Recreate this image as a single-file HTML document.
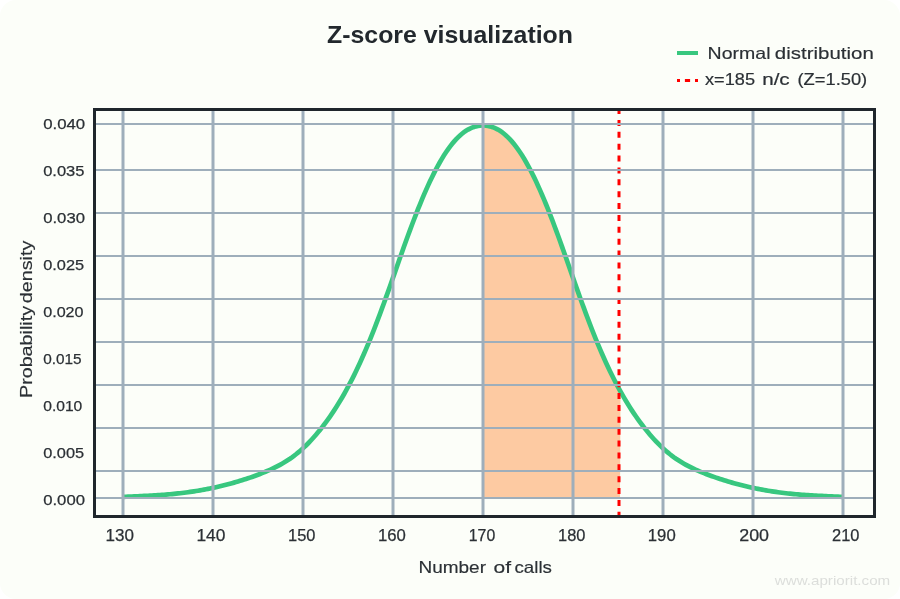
<!DOCTYPE html>
<html><head><meta charset="utf-8"><style>
html,body{margin:0;padding:0;background:#ffffff;}
svg{display:block;will-change:transform;}
text{font-family:"Liberation Sans",sans-serif;}
</style></head><body>
<svg width="900" height="599" viewBox="0 0 900 599">
<rect x="0" y="0" width="900" height="599" rx="16" ry="16" fill="#fcfef9"/>
<text x="450" y="43" text-anchor="middle" font-size="23.6" font-weight="bold" fill="#22282d" textLength="246" lengthAdjust="spacingAndGlyphs">Z-score visualization</text>
<line x1="677" y1="53" x2="698" y2="53" stroke="#38c77f" stroke-width="4"/>
<line x1="677" y1="80.45" x2="698" y2="80.45" stroke="#ff0000" stroke-width="3.1" stroke-dasharray="5.2 4.9" stroke-dashoffset="2.2"/>
<g font-size="16.5" fill="#2b3035" stroke="#2b3035" stroke-width="0.15"><text x="707.6" y="59" textLength="62.9" lengthAdjust="spacingAndGlyphs">Normal</text><text x="774.8" y="59" textLength="99" lengthAdjust="spacingAndGlyphs">distribution</text></g>
<g font-size="16.5" fill="#2b3035" stroke="#2b3035" stroke-width="0.2">
<text x="705" y="84.9" textLength="50" lengthAdjust="spacingAndGlyphs">x=185</text>
<text x="762.2" y="84.9" textLength="27.5" lengthAdjust="spacingAndGlyphs">n/c</text>
<text x="797.5" y="84.9" textLength="69.7" lengthAdjust="spacingAndGlyphs">(Z=1.50)</text>
</g>
<path d="M483.5,498.00 L483.5,125.46 L484.5,125.50 L485.5,125.57 L486.5,125.68 L487.5,125.82 L488.5,126.01 L489.5,126.22 L490.5,126.48 L491.5,126.77 L492.5,127.10 L493.5,127.46 L494.5,127.87 L495.5,128.31 L496.5,128.79 L497.5,129.32 L498.5,129.88 L499.5,130.48 L500.5,131.13 L501.5,131.82 L502.5,132.55 L503.5,133.32 L504.5,134.14 L505.5,135.00 L506.5,135.90 L507.5,136.84 L508.5,137.83 L509.5,138.87 L510.5,139.94 L511.5,141.06 L512.5,142.22 L513.5,143.43 L514.5,144.67 L515.5,145.96 L516.5,147.29 L517.5,148.66 L518.5,150.08 L519.5,151.53 L520.5,153.03 L521.5,154.56 L522.5,156.14 L523.5,157.76 L524.5,159.41 L525.5,161.11 L526.5,162.85 L527.5,164.63 L528.5,166.45 L529.5,168.30 L530.5,170.20 L531.5,172.14 L532.5,174.11 L533.5,176.13 L534.5,178.18 L535.5,180.27 L536.5,182.39 L537.5,184.55 L538.5,186.75 L539.5,188.98 L540.5,191.24 L541.5,193.54 L542.5,195.87 L543.5,198.23 L544.5,200.62 L545.5,203.04 L546.5,205.49 L547.5,207.97 L548.5,210.48 L549.5,213.01 L550.5,215.57 L551.5,218.16 L552.5,220.77 L553.5,223.40 L554.5,226.06 L555.5,228.74 L556.5,231.44 L557.5,234.15 L558.5,236.89 L559.5,239.64 L560.5,242.40 L561.5,245.18 L562.5,247.97 L563.5,250.78 L564.5,253.59 L565.5,256.41 L566.5,259.24 L567.5,262.07 L568.5,264.91 L569.5,267.76 L570.5,270.60 L571.5,273.45 L572.5,276.29 L573.5,279.13 L574.5,281.97 L575.5,284.80 L576.5,287.62 L577.5,290.43 L578.5,293.24 L579.5,296.03 L580.5,298.81 L581.5,301.57 L582.5,304.32 L583.5,307.06 L584.5,309.78 L585.5,312.48 L586.5,315.16 L587.5,317.82 L588.5,320.47 L589.5,323.09 L590.5,325.69 L591.5,328.27 L592.5,330.82 L593.5,333.35 L594.5,335.85 L595.5,338.33 L596.5,340.78 L597.5,343.20 L598.5,345.60 L599.5,347.97 L600.5,350.31 L601.5,352.63 L602.5,354.91 L603.5,357.18 L604.5,359.41 L605.5,361.62 L606.5,363.80 L607.5,365.96 L608.5,368.09 L609.5,370.19 L610.5,372.27 L611.5,374.31 L612.5,376.34 L613.5,378.33 L614.5,380.30 L615.5,382.24 L616.5,384.15 L617.5,386.04 L618.5,387.90 L619.5,389.74 L620.5,391.55 L620.0,498.00 Z" fill="#fdcaa2"/>
<path d="M124.0,496.80 L126.0,496.73 L128.0,496.65 L130.0,496.57 L132.0,496.49 L134.0,496.41 L136.0,496.32 L138.0,496.24 L140.0,496.15 L142.0,496.06 L144.0,495.96 L146.0,495.86 L148.0,495.76 L150.0,495.65 L152.0,495.54 L154.0,495.43 L156.0,495.30 L158.0,495.17 L160.0,495.04 L162.0,494.90 L164.0,494.75 L166.0,494.59 L168.0,494.42 L170.0,494.25 L172.0,494.07 L174.0,493.87 L176.0,493.67 L178.0,493.46 L180.0,493.23 L182.0,493.00 L184.0,492.75 L186.0,492.50 L188.0,492.23 L190.0,491.95 L192.0,491.66 L194.0,491.36 L196.0,491.05 L198.0,490.72 L200.0,490.38 L202.0,490.03 L204.0,489.67 L206.0,489.29 L208.0,488.91 L210.0,488.50 L212.0,488.09 L214.0,487.66 L216.0,487.22 L218.0,486.76 L220.0,486.29 L222.0,485.81 L224.0,485.31 L226.0,484.80 L228.0,484.28 L230.0,483.74 L232.0,483.19 L234.0,482.63 L236.0,482.05 L238.0,481.46 L240.0,480.85 L242.0,480.23 L244.0,479.60 L246.0,478.95 L248.0,478.28 L250.0,477.60 L252.0,476.91 L254.0,476.19 L256.0,475.46 L258.0,474.72 L260.0,473.95 L262.0,473.17 L264.0,472.37 L266.0,471.54 L268.0,470.69 L270.0,469.80 L272.0,468.89 L274.0,467.94 L276.0,466.95 L278.0,465.93 L280.0,464.86 L282.0,463.74 L284.0,462.57 L286.0,461.34 L288.0,460.05 L290.0,458.71 L292.0,457.30 L294.0,455.82 L296.0,454.28 L298.0,452.66 L300.0,450.97 L302.0,449.21 L304.0,447.37 L306.0,445.45 L308.0,443.46 L310.0,441.38 L312.0,439.23 L314.0,437.01 L316.0,434.71 L318.0,432.33 L320.0,429.89 L322.0,427.37 L324.0,424.77 L326.0,422.10 L328.0,419.35 L330.0,416.52 L332.0,413.60 L334.0,410.60 L336.0,407.51 L338.0,404.33 L340.0,401.05 L342.0,397.68 L344.0,394.22 L346.0,390.65 L348.0,386.98 L350.0,383.20 L352.0,379.32 L354.0,375.33 L356.0,371.23 L358.0,367.03 L360.0,362.72 L362.0,358.30 L364.0,353.77 L366.0,349.14 L368.0,344.40 L370.0,339.56 L372.0,334.60 L374.0,329.55 L376.0,324.39 L378.0,319.15 L380.0,313.82 L382.0,308.42 L384.0,302.95 L386.0,297.42 L388.0,291.84 L390.0,286.21 L392.0,280.55 L394.0,274.87 L396.0,269.18 L398.0,263.49 L400.0,257.82 L402.0,252.18 L404.0,246.58 L406.0,241.02 L408.0,235.52 L410.0,230.08 L412.0,224.73 L414.0,219.46 L416.0,214.29 L418.0,209.22 L420.0,204.26 L422.0,199.42 L424.0,194.70 L426.0,190.11 L428.0,185.65 L430.0,181.32 L432.0,177.15 L434.0,173.12 L436.0,169.25 L438.0,165.53 L440.0,161.98 L442.0,158.58 L444.0,155.34 L446.0,152.27 L448.0,149.36 L450.0,146.62 L452.0,144.04 L454.0,141.64 L456.0,139.40 L458.0,137.33 L460.0,135.44 L462.0,133.72 L464.0,132.18 L466.0,130.80 L468.0,129.59 L470.0,128.55 L472.0,127.66 L474.0,126.93 L476.0,126.35 L478.0,125.91 L480.0,125.62 L482.0,125.48 L484.0,125.48 L486.0,125.62 L488.0,125.91 L490.0,126.35 L492.0,126.93 L494.0,127.66 L496.0,128.55 L498.0,129.59 L500.0,130.80 L502.0,132.18 L504.0,133.72 L506.0,135.44 L508.0,137.33 L510.0,139.40 L512.0,141.64 L514.0,144.04 L516.0,146.62 L518.0,149.36 L520.0,152.27 L522.0,155.34 L524.0,158.58 L526.0,161.98 L528.0,165.53 L530.0,169.25 L532.0,173.12 L534.0,177.15 L536.0,181.32 L538.0,185.65 L540.0,190.11 L542.0,194.70 L544.0,199.42 L546.0,204.26 L548.0,209.22 L550.0,214.29 L552.0,219.46 L554.0,224.73 L556.0,230.08 L558.0,235.52 L560.0,241.02 L562.0,246.58 L564.0,252.18 L566.0,257.82 L568.0,263.49 L570.0,269.18 L572.0,274.87 L574.0,280.55 L576.0,286.21 L578.0,291.84 L580.0,297.42 L582.0,302.95 L584.0,308.42 L586.0,313.82 L588.0,319.15 L590.0,324.39 L592.0,329.55 L594.0,334.60 L596.0,339.56 L598.0,344.40 L600.0,349.14 L602.0,353.77 L604.0,358.30 L606.0,362.72 L608.0,367.03 L610.0,371.23 L612.0,375.33 L614.0,379.32 L616.0,383.20 L618.0,386.98 L620.0,390.65 L622.0,394.22 L624.0,397.68 L626.0,401.05 L628.0,404.33 L630.0,407.51 L632.0,410.60 L634.0,413.60 L636.0,416.52 L638.0,419.35 L640.0,422.10 L642.0,424.77 L644.0,427.37 L646.0,429.89 L648.0,432.33 L650.0,434.71 L652.0,437.01 L654.0,439.23 L656.0,441.38 L658.0,443.46 L660.0,445.45 L662.0,447.37 L664.0,449.21 L666.0,450.97 L668.0,452.66 L670.0,454.28 L672.0,455.82 L674.0,457.30 L676.0,458.71 L678.0,460.05 L680.0,461.34 L682.0,462.57 L684.0,463.74 L686.0,464.86 L688.0,465.93 L690.0,466.95 L692.0,467.94 L694.0,468.89 L696.0,469.80 L698.0,470.69 L700.0,471.54 L702.0,472.37 L704.0,473.17 L706.0,473.95 L708.0,474.72 L710.0,475.46 L712.0,476.19 L714.0,476.91 L716.0,477.60 L718.0,478.28 L720.0,478.95 L722.0,479.60 L724.0,480.23 L726.0,480.85 L728.0,481.46 L730.0,482.05 L732.0,482.63 L734.0,483.19 L736.0,483.74 L738.0,484.28 L740.0,484.80 L742.0,485.31 L744.0,485.81 L746.0,486.29 L748.0,486.76 L750.0,487.22 L752.0,487.66 L754.0,488.09 L756.0,488.50 L758.0,488.91 L760.0,489.29 L762.0,489.67 L764.0,490.03 L766.0,490.38 L768.0,490.72 L770.0,491.05 L772.0,491.36 L774.0,491.66 L776.0,491.95 L778.0,492.23 L780.0,492.50 L782.0,492.75 L784.0,493.00 L786.0,493.23 L788.0,493.46 L790.0,493.67 L792.0,493.87 L794.0,494.07 L796.0,494.25 L798.0,494.42 L800.0,494.59 L802.0,494.75 L804.0,494.90 L806.0,495.04 L808.0,495.17 L810.0,495.30 L812.0,495.43 L814.0,495.54 L816.0,495.65 L818.0,495.76 L820.0,495.86 L822.0,495.96 L824.0,496.06 L826.0,496.15 L828.0,496.24 L830.0,496.32 L832.0,496.41 L834.0,496.49 L836.0,496.57 L838.0,496.65 L840.0,496.73 L842.0,496.80" fill="none" stroke="#38c77f" stroke-width="4.7"/>
<line x1="619" y1="108.1" x2="619" y2="515" stroke="#ff0000" stroke-width="3" stroke-dasharray="6 5.875"/>
<g stroke="#9eaebb" stroke-width="3"><line x1="123" y1="111" x2="123" y2="515"/><line x1="213" y1="111" x2="213" y2="515"/><line x1="303" y1="111" x2="303" y2="515"/><line x1="393" y1="111" x2="393" y2="515"/><line x1="483" y1="111" x2="483" y2="515"/><line x1="573" y1="111" x2="573" y2="515"/><line x1="663" y1="111" x2="663" y2="515"/><line x1="753" y1="111" x2="753" y2="515"/><line x1="843" y1="111" x2="843" y2="515"/></g>
<g stroke="#9eaebb" stroke-width="2"><line x1="96" y1="124" x2="873" y2="124"/><line x1="96" y1="170" x2="873" y2="170"/><line x1="96" y1="213" x2="873" y2="213"/><line x1="96" y1="256" x2="873" y2="256"/><line x1="96" y1="299" x2="873" y2="299"/><line x1="96" y1="342" x2="873" y2="342"/><line x1="96" y1="385" x2="873" y2="385"/><line x1="96" y1="428" x2="873" y2="428"/><line x1="96" y1="471" x2="873" y2="471"/><line x1="96" y1="498" x2="873" y2="498"/></g>
<rect x="94.5" y="109.5" width="780" height="407" fill="none" stroke="#1f262c" stroke-width="3"/>
<g font-size="15.5" fill="#2b3035" stroke="#2b3035" stroke-width="0.25"><text x="43.2" y="129" textLength="42.0" lengthAdjust="spacingAndGlyphs">0.040</text><text x="43.2" y="176" textLength="41.3" lengthAdjust="spacingAndGlyphs">0.035</text><text x="43.2" y="223" textLength="41.8" lengthAdjust="spacingAndGlyphs">0.030</text><text x="43.2" y="270" textLength="40.9" lengthAdjust="spacingAndGlyphs">0.025</text><text x="43.2" y="317" textLength="40.4" lengthAdjust="spacingAndGlyphs">0.020</text><text x="43.2" y="364" textLength="38.4" lengthAdjust="spacingAndGlyphs">0.015</text><text x="43.2" y="411" textLength="39.1" lengthAdjust="spacingAndGlyphs">0.010</text><text x="43.2" y="458" textLength="40.9" lengthAdjust="spacingAndGlyphs">0.005</text><text x="43.2" y="505" textLength="41.8" lengthAdjust="spacingAndGlyphs">0.000</text></g>
<g font-size="16.3" fill="#2b3035" stroke="#2b3035" stroke-width="0.25"><text x="119.8" y="541" text-anchor="middle" textLength="28.4" lengthAdjust="spacingAndGlyphs">130</text><text x="210.95" y="541" text-anchor="middle" textLength="29" lengthAdjust="spacingAndGlyphs">140</text><text x="301.7" y="541" text-anchor="middle" textLength="27.4" lengthAdjust="spacingAndGlyphs">150</text><text x="391.85" y="541" text-anchor="middle" textLength="27.9" lengthAdjust="spacingAndGlyphs">160</text><text x="482.0" y="541" text-anchor="middle" textLength="26.4" lengthAdjust="spacingAndGlyphs">170</text><text x="571.75" y="541" text-anchor="middle" textLength="27.4" lengthAdjust="spacingAndGlyphs">180</text><text x="661.75" y="541" text-anchor="middle" textLength="27.9" lengthAdjust="spacingAndGlyphs">190</text><text x="754.15" y="541" text-anchor="middle" textLength="29.8" lengthAdjust="spacingAndGlyphs">200</text><text x="845.7" y="541" text-anchor="middle" textLength="27.4" lengthAdjust="spacingAndGlyphs">210</text></g>
<g font-size="16.5" fill="#2b3035" stroke="#2b3035" stroke-width="0.15"><text x="418.5" y="573" textLength="67.5" lengthAdjust="spacingAndGlyphs">Number</text><text x="493.5" y="573" textLength="17.5" lengthAdjust="spacingAndGlyphs">of</text><text x="514.5" y="573" textLength="37.5" lengthAdjust="spacingAndGlyphs">calls</text></g>
<g font-size="16.5" fill="#2b3035" stroke="#2b3035" stroke-width="0.15"><text x="32" y="398" transform="rotate(-90 32 398)" textLength="92" lengthAdjust="spacingAndGlyphs">Probability</text><text x="32" y="303.2" transform="rotate(-90 32 303.2)" textLength="62.5" lengthAdjust="spacingAndGlyphs">density</text></g>
<text x="774.8" y="585" font-size="12.8" fill="#dcdedb" textLength="115.4" lengthAdjust="spacingAndGlyphs">www.apriorit.com</text>
</svg>
</body></html>
